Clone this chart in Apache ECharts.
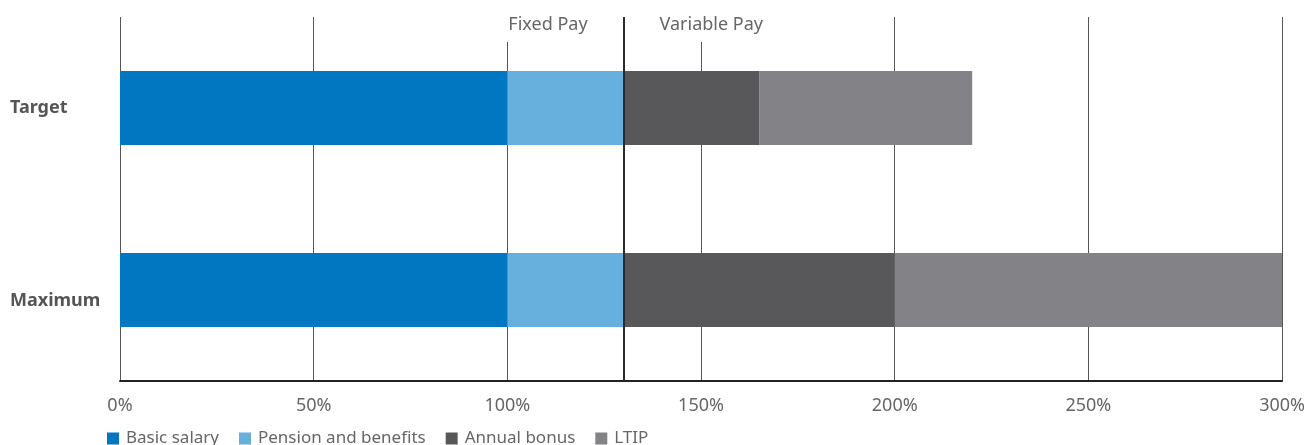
<!DOCTYPE html>
<html>
<head>
<meta charset="utf-8">
<script src="https://cdn.jsdelivr.net/npm/echarts@6/dist/echarts.min.js"></script>
<style>
  html, body { margin: 0; padding: 0; background: #fff; }
  #chart { width: 1308px; height: 445px; }
</style>
</head>
<body>
<div id="chart"></div>
<script>
// categories and values (% of basic salary)
var categories = ["Target", "Maximum"];
var basicSalary = [100, 100];
var pension = [30, 30];
var annualBonus = [35, 70];
var ltip = [55, 100];
var fixedVariableSplit = 130;
var xTicks = [0, 50, 100, 150, 200, 250, 300];

var chart = echarts.init(document.getElementById("chart"));
var font = "'Noto Sans', 'Open Sans', sans-serif";

function barSeries(name, data, color) {
  return {
    name: name,
    type: "bar",
    stack: "pay",
    data: data,
    barWidth: 74,
    itemStyle: { color: color },
    silent: true
  };
}

var series = [
  barSeries("Basic salary", basicSalary, "#0077c0"),
  barSeries("Pension and benefits", pension, "#67afdc"),
  barSeries("Annual bonus", annualBonus, "#58585a"),
  barSeries("LTIP", ltip, "#838387")
];
// fixed / variable divider
series[0].markLine = {
  silent: true,
  symbol: "none",
  label: { show: false },
  lineStyle: { color: "#2b2b2b", width: 2, type: "solid" },
  data: [{ xAxis: fixedVariableSplit }]
};

chart.setOption({
  animation: false,
  textStyle: { fontFamily: font },
  grid: { left: 120, right: 25, top: 17, bottom: 64 },
  legend: {
    left: 107,
    top: 430,
    padding: 0,
    itemWidth: 12,
    itemHeight: 12,
    itemGap: 20,
    icon: "rect",
    textStyle: { color: "#666", fontSize: 17, fontFamily: font, padding: [0, 0, 0, 2] },
    data: series.map(function (s) { return s.name; })
  },
  xAxis: {
    type: "value",
    min: xTicks[0],
    max: xTicks[xTicks.length - 1],
    interval: 50,
    axisLine: { show: true, lineStyle: { color: "#222", width: 2 } },
    axisTick: { show: false },
    axisLabel: {
      color: "#666",
      fontSize: 18,
      margin: 16,
      formatter: function (v) { return v + "%"; }
    },
    splitLine: { show: true, lineStyle: { color: "#555", width: 1 } }
  },
  yAxis: {
    type: "category",
    inverse: true,
    data: categories,
    axisLine: { show: false },
    axisTick: { show: false },
    axisLabel: {
      align: "left",
      margin: 110,
      color: "#555",
      fontSize: 18,
      fontWeight: "bold",
      formatter: function (v) {
        return v === "Maximum" ? "{low|" + v + "}" : "{top|" + v + "}";
      },
      rich: {
        top: { fontSize: 18, fontWeight: "bold", color: "#555" },
        low: { fontSize: 18, fontWeight: "bold", color: "#555", padding: [21, 0, 0, 0] }
      }
    }
  },
  series: series
});

// "Fixed Pay" / "Variable Pay" captions either side of the divider
var splitX = chart.convertToPixel({ xAxisIndex: 0 }, fixedVariableSplit);
chart.setOption({
  graphic: [
    {
      type: "rect",
      z: 10,
      silent: true,
      shape: { x: splitX - 122, y: 14, width: 90, height: 28 },
      style: { fill: "#fff" }
    },
    {
      type: "rect",
      z: 10,
      silent: true,
      shape: { x: splitX + 32, y: 14, width: 120, height: 28 },
      style: { fill: "#fff" }
    },
    {
      type: "text",
      z: 11,
      silent: true,
      x: splitX - 36,
      y: 25,
      style: { text: "Fixed Pay", fill: "#666", fontSize: 18, fontFamily: font, align: "right", verticalAlign: "middle" }
    },
    {
      type: "text",
      z: 11,
      silent: true,
      x: splitX + 36,
      y: 25,
      style: { text: "Variable Pay", fill: "#666", fontSize: 18, fontFamily: font, align: "left", verticalAlign: "middle" }
    }
  ]
});
</script>
</body>
</html>
